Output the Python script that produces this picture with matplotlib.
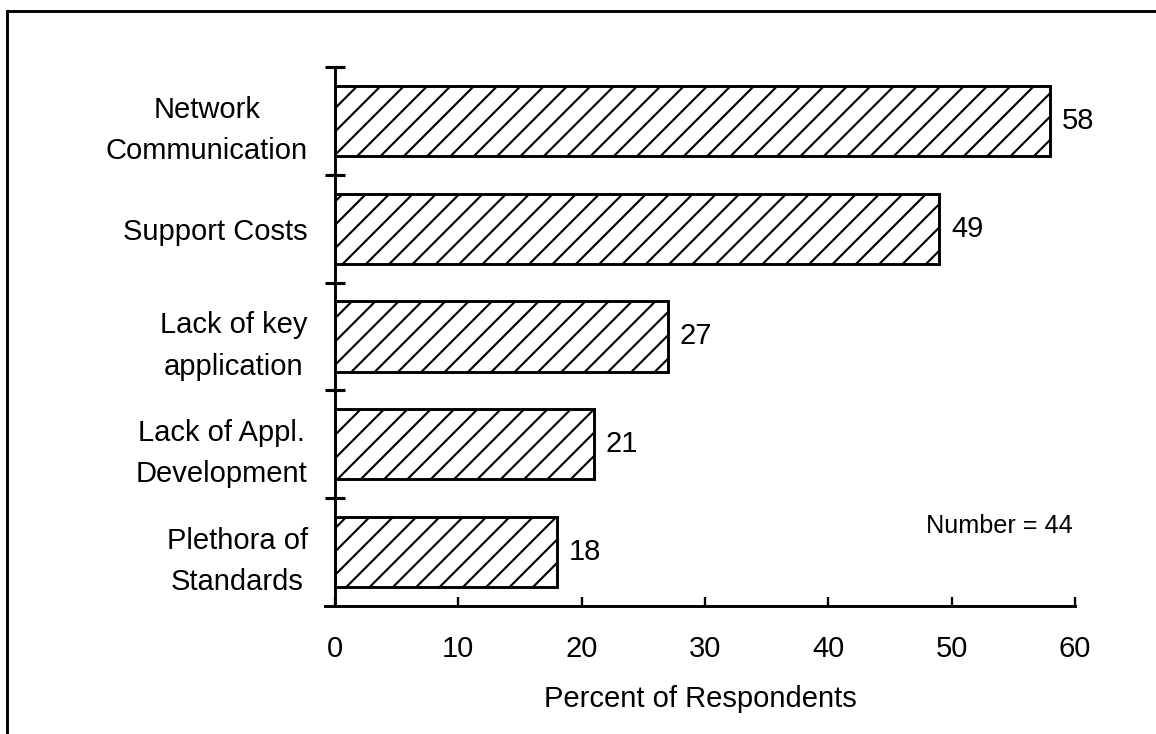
import matplotlib
matplotlib.use("Agg")
import matplotlib.pyplot as plt
import numpy as np
from matplotlib.patches import Rectangle

# data
categories = [
    "Network\nCommunication",
    "Support Costs",
    "Lack of key\napplication",
    "Lack of Appl.\nDevelopment",
    "Plethora of\nStandards",
]
percent = [58, 49, 27, 21, 18]
n_respondents = 44

DPI = 140
plt.rcParams["font.family"] = ["Liberation Sans", "DejaVu Sans"]
plt.rcParams["font.size"] = 15
plt.rcParams["hatch.linewidth"] = 1.1
plt.rcParams["hatch.color"] = "black"

fig = plt.figure(figsize=(1156 / DPI, 734 / DPI), dpi=DPI)
ax = fig.add_axes([325 / 1156, 1 - 606 / 734, 750 / 1156, (606 - 67) / 734])

y = np.arange(len(categories))[::-1]
ax.barh(y, percent, height=0.65, color="white", edgecolor="black",
        linewidth=1.5, hatch="//")
for yi, v in zip(y, percent):
    ax.annotate(f"{v}", (v, yi), xytext=(6, 0), textcoords="offset points",
                ha="left", va="center", fontsize=15)

ax.set_xlim(-0.8, 60)
ax.set_ylim(-0.5, len(categories) - 0.5)
ax.spines["left"].set_position(("data", 0))
ax.spines["top"].set_visible(False)
ax.spines["right"].set_visible(False)
for s in ("left", "bottom"):
    ax.spines[s].set_linewidth(1.5)

ax.set_xticks(range(0, 61, 10))
ax.tick_params(axis="x", direction="in", length=4.5, width=1.2, pad=15,
               labelsize=15)
ax.set_yticks(y)
ax.set_yticklabels(categories, ha="right", multialignment="center",
                   linespacing=1.6)
ax.tick_params(axis="y", which="major", length=0, pad=14, labelsize=15)
ax.set_yticks(np.arange(0.5, len(categories), 1.0), minor=True)
ax.tick_params(axis="y", which="minor", direction="inout", length=10,
               width=1.6)

ax.set_xlabel("Percent of Respondents", fontsize=15, labelpad=11)
ax.text(59.8, 0.24, f"Number = {n_respondents}", ha="right", va="center",
        fontsize=13)

# page frame (left and top edges)
fig.add_artist(Rectangle((7 / 1156, -0.2), 1.5, 1.2 - 11 / 734,
                         transform=fig.transFigure, fill=False,
                         edgecolor="black", linewidth=1.5))

fig.savefig("out.png", dpi=DPI)
